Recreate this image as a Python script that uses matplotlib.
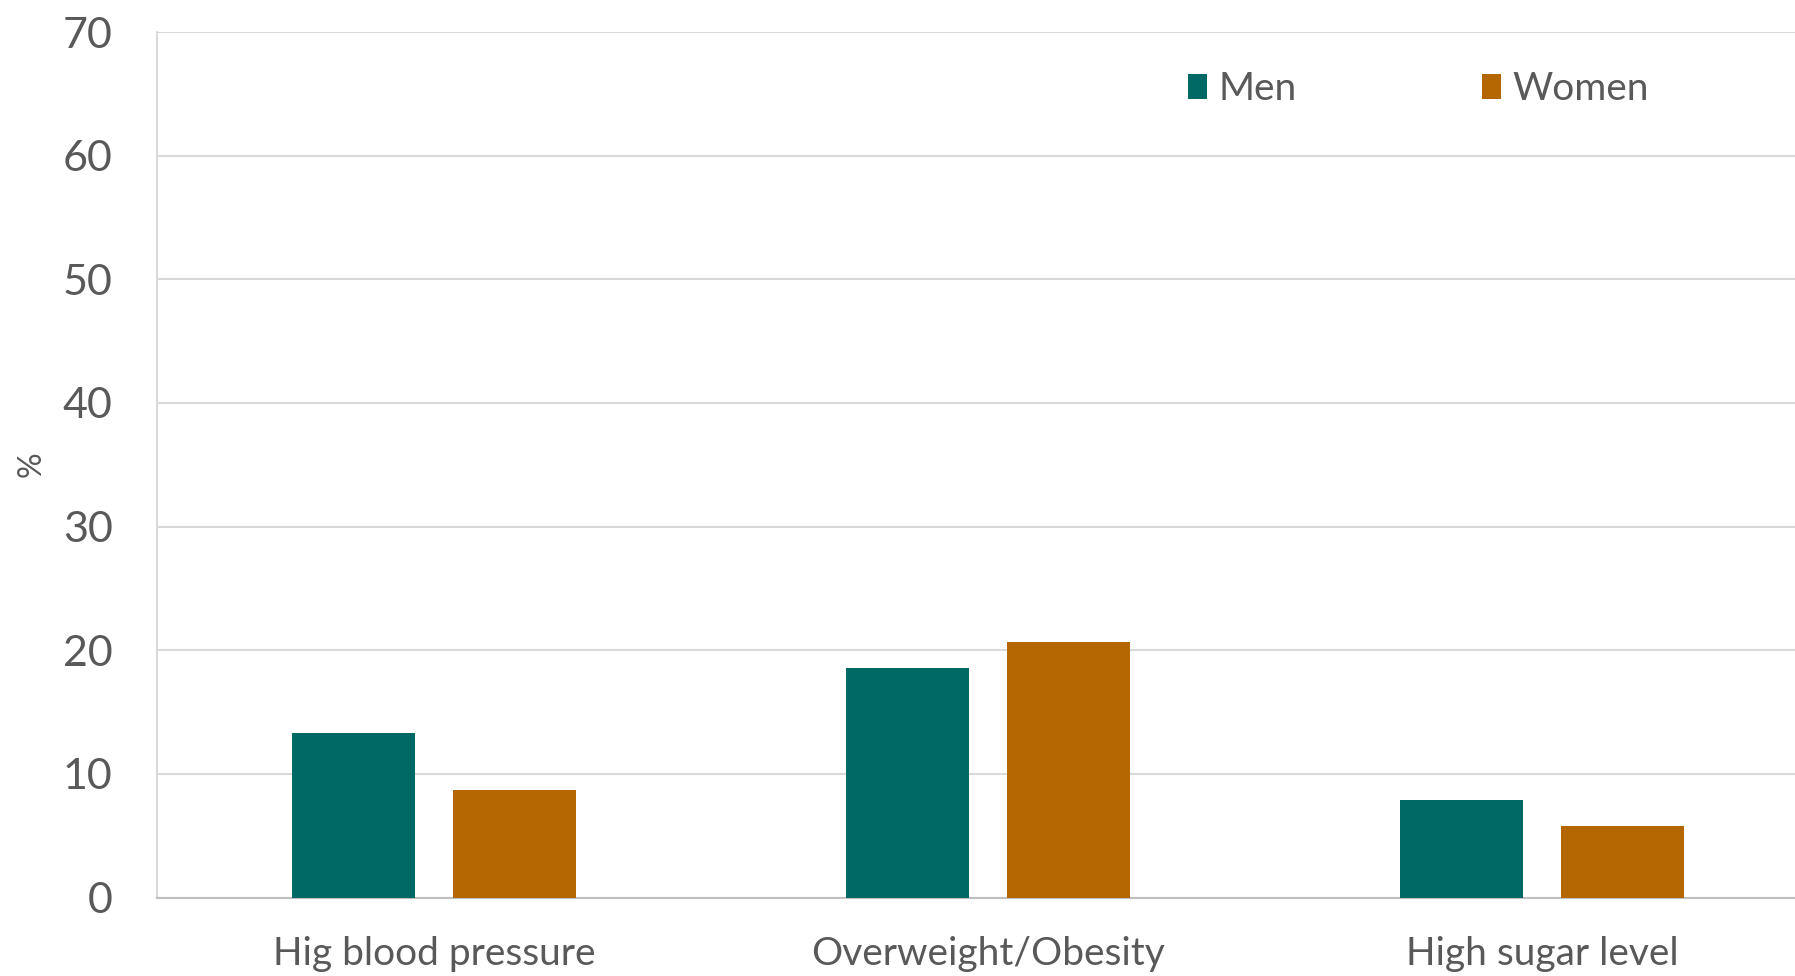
import numpy as np
import matplotlib
matplotlib.use("Agg")
import matplotlib.pyplot as plt

# Data
categories = ["Hig blood pressure", "Overweight/Obesity", "High sugar level"]
men = [13.3, 18.6, 7.9]
women = [8.7, 20.7, 5.75]

plt.rcParams['font.family'] = ['Lato', 'DejaVu Sans']

text_color = "#595959"
grid_color = "#d9d9d9"
men_color = "#006865"
women_color = "#b46700"

fig = plt.figure(figsize=(17.95, 9.76), dpi=100)
# plot area runs a little past the right edge of the figure
ax = fig.add_axes([157 / 1795, 1 - 897.5 / 976, 1662 / 1795, (897.5 - 32) / 976])

x = np.arange(len(categories))
width = 0.222
offset = 0.145

ax.bar(x - offset, men, width, color=men_color, label="Men", zorder=3)
ax.bar(x + offset, women, width, color=women_color, label="Women", zorder=3)

ax.set_xlim(-0.5, 2.5)
ax.set_ylim(0, 70)
ax.set_yticks(range(0, 71, 10))
ax.set_xticks(x)
ax.set_xticklabels(categories)

ax.grid(axis='y', color=grid_color, linewidth=1.5, zorder=0)
ax.set_axisbelow(True)

for side in ['top', 'right']:
    ax.spines[side].set_visible(False)
ax.spines['left'].set_color(grid_color)
ax.spines['left'].set_linewidth(1.5)
ax.spines['bottom'].set_color("#bfbfbf")
ax.spines['bottom'].set_linewidth(1.5)

ax.tick_params(axis='y', length=0, pad=32, labelsize=31, labelcolor=text_color)
ax.tick_params(axis='x', length=0, pad=28, labelsize=28, labelcolor=text_color)

fig.text(32 / 1795, 1 - 464 / 976, "%", rotation=90, fontsize=23,
         color=text_color, ha='center', va='center')

leg = ax.legend(loc='center left', bbox_to_anchor=(1172 / 1795, 1 - 89 / 976),
                bbox_transform=fig.transFigure, ncol=2, frameon=False,
                fontsize=28, handlelength=0.5, handleheight=0.62,
                handletextpad=0.3, columnspacing=4.75, borderaxespad=0)
for t in leg.get_texts():
    t.set_color(text_color)

plt.savefig("out.png", dpi=100)
